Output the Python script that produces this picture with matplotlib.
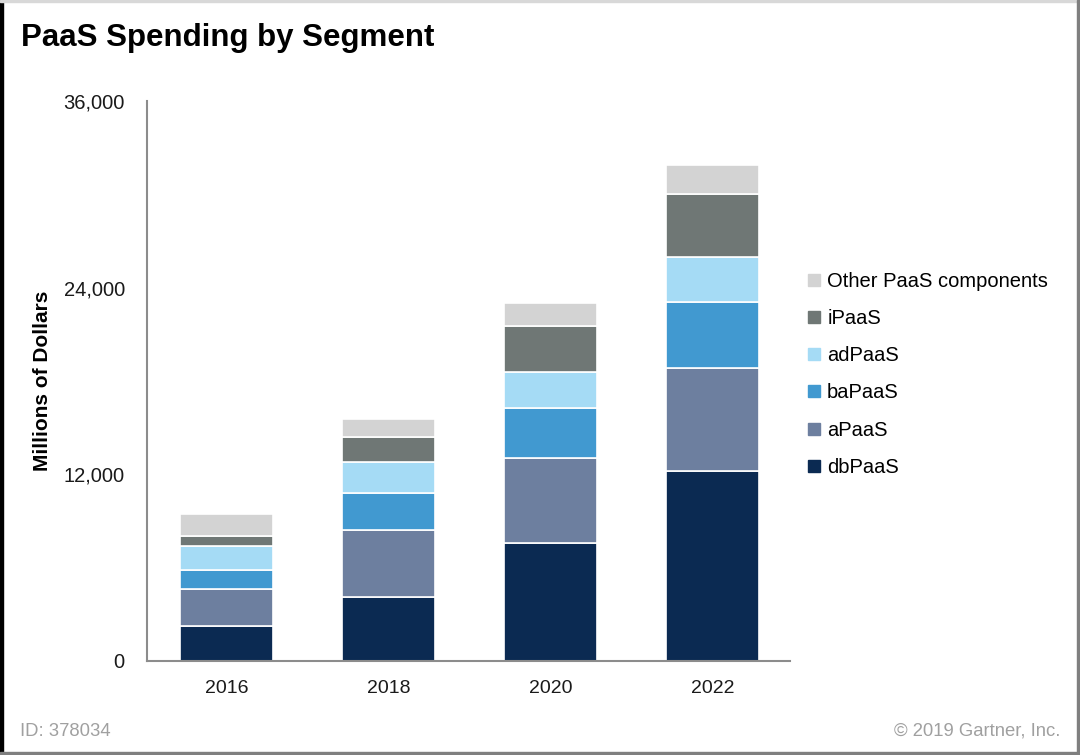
import matplotlib
matplotlib.use("Agg")
import matplotlib.pyplot as plt
from matplotlib.lines import Line2D
from matplotlib.patches import Rectangle
from matplotlib.ticker import FuncFormatter

plt.rcParams['font.family'] = ['Liberation Sans', 'DejaVu Sans']

years = ["2016", "2018", "2020", "2022"]
segments = ["dbPaaS", "aPaaS", "baPaaS", "adPaaS", "iPaaS", "Other PaaS components"]
dbPaaS = [2220, 4130, 7590, 12240]
aPaaS = [2440, 4290, 5440, 6580]
baPaaS = [1190, 2360, 3220, 4280]
adPaaS = [1540, 2020, 2350, 2860]
iPaaS = [650, 1600, 2940, 4090]
other = [1410, 1160, 1460, 1840]
series = [dbPaaS, aPaaS, baPaaS, adPaaS, iPaaS, other]
colors = ["#0B2A52", "#6D7F9F", "#4199D0", "#A5DBF5", "#6F7775", "#D3D3D3"]
yticks = [0, 12000, 24000, 36000]

fig = plt.figure(figsize=(10.8, 7.55), dpi=100)
ax = fig.add_axes([147/1080, 1-661/755, (790-147)/1080, (661-101)/755])

x = list(range(len(years)))
bottom = [0]*len(years)
for name, vals, c in zip(segments, series, colors):
    ax.bar(x, vals, bottom=bottom, width=0.575, color=c, edgecolor="white", linewidth=1.2, label=name)
    bottom = [b+v for b, v in zip(bottom, vals)]

ax.set_xlim(-0.49, 3.48)
ax.set_ylim(0, 36000)
ax.set_yticks(yticks)
ax.yaxis.set_major_formatter(FuncFormatter(lambda v, p: f"{int(v):,}"))
ax.set_xticks(x)
ax.set_xticklabels(years)
ax.tick_params(axis='x', length=0, labelsize=14, colors="#1A1A1A", pad=14)
ax.tick_params(axis='y', length=0, labelsize=14.5, colors="#1A1A1A", pad=16)
for s in ["top", "right"]:
    ax.spines[s].set_visible(False)
for s in ["left", "bottom"]:
    ax.spines[s].set_color("#8C8C8C")
    ax.spines[s].set_linewidth(1.5)

ax.set_ylabel("Millions of Dollars", fontsize=15, fontweight="bold", labelpad=8)

handles = [Line2D([0], [0], marker='s', linestyle='none', markersize=8,
                  markerfacecolor=c, markeredgecolor=c) for c in colors]
leg = fig.legend(handles[::-1], segments[::-1], loc="upper left",
                 bbox_to_anchor=(800/1080, 1-264/755), frameon=False,
                 fontsize=14.5, handlelength=0.6, handletextpad=0.35,
                 labelspacing=0.9, borderaxespad=0)

fig.text(21/1080, 1-38/755, "PaaS Spending by Segment", fontsize=22.5, fontweight="bold",
         va="center", ha="left")
fig.text(20/1080, 1-731/755, "ID: 378034", fontsize=13.3, color="#A0A0A0", va="center", ha="left")
fig.text(1060/1080, 1-731/755, "© 2019 Gartner, Inc.", fontsize=13.3, color="#A0A0A0",
         va="center", ha="right")

# border
fig.patches.append(Rectangle((0, 0), 3/1080, 1, transform=fig.transFigure, color="black", zorder=10))
fig.patches.append(Rectangle((0, 1-2/755), 1, 2/755, transform=fig.transFigure, color="#D8D8D8", zorder=10))
fig.patches.append(Rectangle((1-3/1080, 0), 3/1080, 1, transform=fig.transFigure, color="#7F7F7F", zorder=10))
fig.patches.append(Rectangle((0, 0), 1, 3/755, transform=fig.transFigure, color="#7F7F7F", zorder=10))

fig.savefig("out.png", dpi=100)
